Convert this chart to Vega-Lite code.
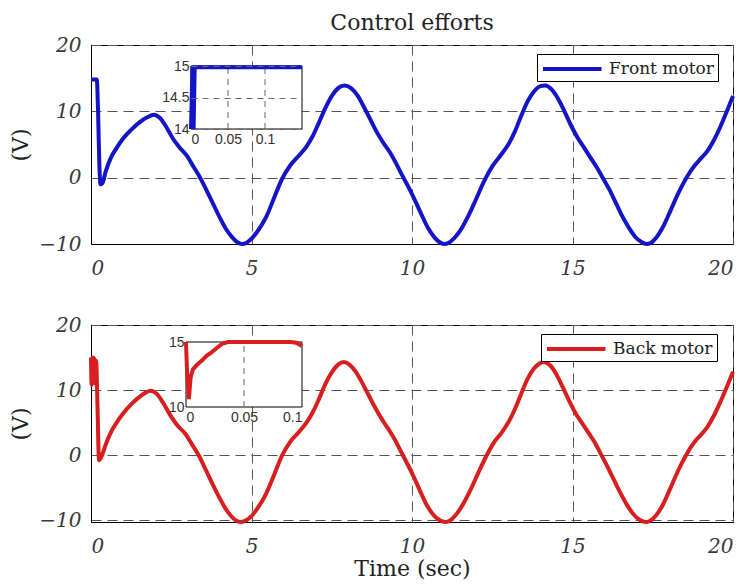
{
  "$schema": "https://vega.github.io/schema/vega-lite/v6.json",
  "padding": {"left": 9, "top": 11, "right": 5, "bottom": 3},
  "background": "white",
  "bounds": "flush",
  "spacing": 81,
  "resolve": {"scale": {"color": "independent"}},
  "config": {
    "view": {"stroke": "black", "strokeWidth": 1},
    "axis": {
      "labelFont": "DejaVu Serif", "labelFontStyle": "italic", "labelFontSize": 20, "labelColor": "#3a3a3a",
      "titleFont": "DejaVu Serif", "titleFontSize": 22, "titleFontWeight": "normal", "titleColor": "#222",
      "ticks": false, "domainColor": "black", "gridColor": "#555", "gridDash": [10, 6], "gridOpacity": 1, "labelPadding": 10
    },
    "legend": {
      "title": null, "orient": "none", "symbolType": "M-1,0H5.5", "symbolSize": 324, "symbolStrokeWidth": 4,
      "labelFont": "DejaVu Serif", "labelFontSize": 17, "labelColor": "#222", "labelOffset": 46, "padding": 4,
      "strokeColor": "black", "fillColor": "white"
    }
  },
  "vconcat": [
    {
      "width": 642, "height": 199,
      "title": {"text": "Control efforts", "font": "DejaVu Serif", "fontSize": 22, "fontWeight": "normal", "color": "#222", "frame": "group", "anchor": "middle", "offset": 0},
      "resolve": {"scale": {"x": "independent", "y": "independent"}},
      "layer": [
        {
          "data": {"values": [
            {"t":0,"v":14.8},{"t":0.1,"v":14.8},{"t":0.18,"v":14.8},{"t":0.22,"v":10},{"t":0.26,"v":2},{"t":0.3,"v":-1.0},{"t":0.36,"v":-0.8},{"t":0.45,"v":0.8},{"t":0.6,"v":2.8},{"t":0.8,"v":4.5},
            {"t":1.0,"v":5.9},{"t":1.25,"v":7.2},{"t":1.5,"v":8.3},{"t":1.75,"v":9.1},{"t":1.96,"v":9.5},{"t":2.15,"v":9.0},{"t":2.35,"v":7.6},{"t":2.55,"v":5.9},{"t":2.75,"v":4.6},{"t":3.0,"v":3.2},
            {"t":3.2,"v":1.6},{"t":3.4,"v":0.0},{"t":3.6,"v":-1.9},{"t":3.8,"v":-3.9},{"t":4.0,"v":-5.9},{"t":4.2,"v":-7.7},{"t":4.4,"v":-9.0},{"t":4.55,"v":-9.7},{"t":4.7,"v":-10.0},{"t":4.85,"v":-9.8},
            {"t":5.0,"v":-9.2},{"t":5.2,"v":-8.0},{"t":5.45,"v":-6.0},{"t":5.7,"v":-3.1},{"t":5.95,"v":-0.2},{"t":6.2,"v":1.8},{"t":6.45,"v":3.2},{"t":6.7,"v":4.6},{"t":6.9,"v":6.2},{"t":7.1,"v":8.3},
            {"t":7.3,"v":10.5},{"t":7.5,"v":12.3},{"t":7.7,"v":13.5},{"t":7.9,"v":13.9},{"t":8.1,"v":13.5},{"t":8.3,"v":12.4},{"t":8.5,"v":10.7},{"t":8.7,"v":8.8},{"t":8.9,"v":6.9},{"t":9.1,"v":5.3},
            {"t":9.3,"v":3.9},{"t":9.5,"v":2.2},{"t":9.7,"v":0.3},{"t":9.9,"v":-1.5},{"t":10.1,"v":-3.5},{"t":10.3,"v":-5.6},{"t":10.5,"v":-7.6},{"t":10.7,"v":-9.0},{"t":10.85,"v":-9.7},{"t":11.0,"v":-10.0},
            {"t":11.15,"v":-9.8},{"t":11.3,"v":-9.2},{"t":11.5,"v":-8.0},{"t":11.75,"v":-5.8},{"t":12.0,"v":-3.2},{"t":12.25,"v":-0.5},{"t":12.5,"v":1.7},{"t":12.75,"v":3.3},{"t":13.0,"v":5.0},{"t":13.2,"v":6.9},
            {"t":13.4,"v":9.3},{"t":13.6,"v":11.5},{"t":13.8,"v":13.0},{"t":14.0,"v":13.8},{"t":14.15,"v":13.9},{"t":14.35,"v":13.3},{"t":14.55,"v":11.9},{"t":14.75,"v":10.0},{"t":14.95,"v":7.9},{"t":15.15,"v":6.1},
            {"t":15.35,"v":4.6},{"t":15.55,"v":3.1},{"t":15.75,"v":1.6},{"t":15.95,"v":-0.1},{"t":16.15,"v":-1.8},{"t":16.35,"v":-3.8},{"t":16.55,"v":-5.8},{"t":16.75,"v":-7.5},{"t":16.95,"v":-8.9},{"t":17.15,"v":-9.7},
            {"t":17.3,"v":-10.0},{"t":17.45,"v":-9.8},{"t":17.6,"v":-9.1},{"t":17.8,"v":-7.6},{"t":18.05,"v":-5.0},{"t":18.3,"v":-2.3},{"t":18.55,"v":0.0},{"t":18.8,"v":1.8},{"t":19.0,"v":2.9},{"t":19.2,"v":4.0},
            {"t":19.4,"v":5.6},{"t":19.6,"v":7.6},{"t":19.8,"v":9.9},{"t":20.0,"v":12.3}
          ]},
          "mark": {"type": "line", "strokeWidth": 4, "interpolate": "monotone"},
          "encoding": {
            "x": {"field": "t", "type": "quantitative", "scale": {"domain": [0, 20], "nice": false}, "axis": {"values": [0, 5, 10, 15, 20], "title": null, "grid": true, "labelPadding": 14}},
            "y": {"field": "v", "type": "quantitative", "scale": {"domain": [-10, 20], "nice": false}, "axis": {"values": [-10, 0, 10, 20], "title": "(V)", "grid": true, "titlePadding": 6}},
            "color": {"datum": "Front motor", "type": "nominal", "scale": {"range": ["#1515c8"]}, "legend": {"legendX": 446, "legendY": 9}}
          }
        },
        {
          "layer": [
            {
              "data": {"values": [{"t": 0, "v": 14, "t2": 0.15, "v2": 15}]},
              "mark": {"type": "rect", "fill": "white", "stroke": "black", "strokeWidth": 1},
              "encoding": {
                "x": {"field": "t", "type": "quantitative", "scale": {"domain": [0, 0.15], "range": [100, 211], "nice": false}, "axis": {"orient": "bottom", "offset": -115, "values": [0, 0.05, 0.1], "format": "~g", "title": null, "grid": false, "domain": false, "labelFont": "Liberation Sans", "labelFontStyle": "normal", "labelFontSize": 14, "labelColor": "#333", "labelPadding": 3, "zindex": 1}},
                "x2": {"field": "t2"},
                "y": {"field": "v", "type": "quantitative", "scale": {"domain": [14, 15], "range": [84, 21], "nice": false}, "axis": {"orient": "left", "offset": -100, "values": [14, 14.5, 15], "format": "~g", "title": null, "grid": true, "gridColor": "#666", "gridDash": [6, 5], "domain": false, "labelFont": "Liberation Sans", "labelFontStyle": "normal", "labelFontSize": 14, "labelColor": "#333", "labelPadding": 2, "zindex": 1}},
                "y2": {"field": "v2"}
              }
            },
            {
              "data": {"values": [{"g": 0.05}, {"g": 0.1}]},
              "mark": {"type": "rule", "color": "#666", "strokeWidth": 1, "strokeDash": [6, 5]},
              "encoding": {
                "x": {"field": "g", "type": "quantitative"},
                "y": {"datum": 14, "type": "quantitative"},
                "y2": {"datum": 15}
              }
            },
            {
              "data": {"values": [
                {"t": 0, "v": 14.0}, {"t": 0.002, "v": 15.0}, {"t": 0.0035, "v": 14.0}, {"t": 0.005, "v": 14.98}, {"t": 0.05, "v": 14.98}, {"t": 0.1, "v": 14.98}, {"t": 0.15, "v": 14.98}
              ]},
              "mark": {"type": "line", "color": "#1515c8", "strokeWidth": 4},
              "encoding": {
                "x": {"field": "t", "type": "quantitative"},
                "y": {"field": "v", "type": "quantitative"}
              }
            }
          ]
        }
      ]
    },
    {
      "width": 642, "height": 197,
      "resolve": {"scale": {"x": "independent", "y": "independent"}},
      "layer": [
        {
          "data": {"values": [
            {"t":0,"v":15.0},{"t":0.02,"v":10.8},{"t":0.05,"v":15.0},{"t":0.1,"v":14.8},{"t":0.13,"v":11.0},{"t":0.16,"v":14.5},{"t":0.2,"v":8},{"t":0.25,"v":-0.8},{"t":0.32,"v":-0.3},{"t":0.45,"v":1.5},
            {"t":0.6,"v":3.3},{"t":0.8,"v":5.0},{"t":1.0,"v":6.4},{"t":1.25,"v":7.8},{"t":1.5,"v":8.9},{"t":1.7,"v":9.6},{"t":1.86,"v":9.9},{"t":2.05,"v":9.4},{"t":2.25,"v":8.0},{"t":2.45,"v":6.3},
            {"t":2.7,"v":4.5},{"t":2.95,"v":3.2},{"t":3.15,"v":1.6},{"t":3.35,"v":0.0},{"t":3.55,"v":-2.0},{"t":3.75,"v":-4.1},{"t":3.95,"v":-6.1},{"t":4.15,"v":-7.9},{"t":4.35,"v":-9.3},{"t":4.5,"v":-10.0},
            {"t":4.67,"v":-10.3},{"t":4.85,"v":-10.0},{"t":5.0,"v":-9.4},{"t":5.2,"v":-8.1},{"t":5.45,"v":-6.0},{"t":5.7,"v":-3.1},{"t":5.95,"v":-0.1},{"t":6.2,"v":2.0},{"t":6.45,"v":3.4},{"t":6.7,"v":4.9},
            {"t":6.9,"v":6.5},{"t":7.1,"v":8.6},{"t":7.3,"v":10.9},{"t":7.5,"v":12.7},{"t":7.7,"v":13.9},{"t":7.88,"v":14.3},{"t":8.05,"v":13.9},{"t":8.25,"v":12.8},{"t":8.45,"v":11.1},{"t":8.65,"v":9.2},
            {"t":8.85,"v":7.3},{"t":9.05,"v":5.6},{"t":9.25,"v":4.1},{"t":9.45,"v":2.5},{"t":9.65,"v":0.6},{"t":9.85,"v":-1.3},{"t":10.05,"v":-3.3},{"t":10.25,"v":-5.5},{"t":10.45,"v":-7.6},{"t":10.65,"v":-9.1},
            {"t":10.85,"v":-10.0},{"t":11.05,"v":-10.3},{"t":11.2,"v":-10.0},{"t":11.35,"v":-9.3},{"t":11.55,"v":-7.9},{"t":11.8,"v":-5.6},{"t":12.05,"v":-2.9},{"t":12.3,"v":-0.3},{"t":12.55,"v":1.9},{"t":12.8,"v":3.5},
            {"t":13.0,"v":5.0},{"t":13.2,"v":7.0},{"t":13.4,"v":9.4},{"t":13.6,"v":11.7},{"t":13.8,"v":13.3},{"t":13.95,"v":14.0},{"t":14.1,"v":14.3},{"t":14.3,"v":13.8},{"t":14.5,"v":12.4},{"t":14.7,"v":10.4},
            {"t":14.9,"v":8.3},{"t":15.1,"v":6.4},{"t":15.3,"v":4.9},{"t":15.5,"v":3.4},{"t":15.7,"v":1.9},{"t":15.9,"v":0.0},{"t":16.1,"v":-1.9},{"t":16.3,"v":-3.9},{"t":16.5,"v":-5.9},{"t":16.7,"v":-7.7},
            {"t":16.9,"v":-9.1},{"t":17.1,"v":-10.0},{"t":17.3,"v":-10.3},{"t":17.45,"v":-10.0},{"t":17.6,"v":-9.3},{"t":17.8,"v":-7.8},{"t":18.05,"v":-5.1},{"t":18.3,"v":-2.3},{"t":18.55,"v":0.1},{"t":18.8,"v":2.0},
            {"t":19.0,"v":3.1},{"t":19.2,"v":4.3},{"t":19.4,"v":6.0},{"t":19.6,"v":8.1},{"t":19.8,"v":10.4},{"t":20.0,"v":12.8}
          ]},
          "mark": {"type": "line", "strokeWidth": 4, "interpolate": "monotone"},
          "encoding": {
            "x": {"field": "t", "type": "quantitative", "scale": {"domain": [0, 20], "nice": false}, "axis": {"values": [0, 5, 10, 15, 20], "title": "Time (sec)", "grid": true, "labelPadding": 14, "titlePadding": 2}},
            "y": {"field": "v", "type": "quantitative", "scale": {"domain": [-10.3, 20], "nice": false}, "axis": {"values": [-10, 0, 10, 20], "title": "(V)", "grid": true, "titlePadding": 6}},
            "color": {"datum": "Back motor", "type": "nominal", "scale": {"range": ["#d81e1e"]}, "legend": {"legendX": 450, "legendY": 9}}
          }
        },
        {
          "layer": [
            {
              "data": {"values": [{"t": 0, "v": 10, "t2": 0.1, "v2": 15}]},
              "mark": {"type": "rect", "fill": "white", "stroke": "black", "strokeWidth": 1},
              "encoding": {
                "x": {"field": "t", "type": "quantitative", "scale": {"domain": [0, 0.1], "range": [95, 211], "nice": false}, "axis": {"orient": "bottom", "offset": -115, "values": [0, 0.05, 0.1], "format": "~g", "title": null, "grid": false, "domain": false, "labelFont": "Liberation Sans", "labelFontStyle": "normal", "labelFontSize": 14, "labelColor": "#333", "labelPadding": 3, "zindex": 1}},
                "x2": {"field": "t2"},
                "y": {"field": "v", "type": "quantitative", "scale": {"domain": [10, 15], "range": [82, 17], "nice": false}, "axis": {"orient": "left", "offset": -95, "values": [10, 15], "format": "~g", "title": null, "grid": false, "domain": false, "labelFont": "Liberation Sans", "labelFontStyle": "normal", "labelFontSize": 14, "labelColor": "#333", "labelPadding": 2, "zindex": 1}},
                "y2": {"field": "v2"}
              }
            },
            {
              "data": {"values": [{"g": 0.05}]},
              "mark": {"type": "rule", "color": "#666", "strokeWidth": 1, "strokeDash": [6, 5]},
              "encoding": {
                "x": {"field": "g", "type": "quantitative"},
                "y": {"datum": 10, "type": "quantitative"},
                "y2": {"datum": 15}
              }
            },
            {
              "data": {"values": [
                {"t": 0, "v": 15.0}, {"t": 0.001, "v": 12.5}, {"t": 0.0025, "v": 10.6}, {"t": 0.004, "v": 12.3}, {"t": 0.006, "v": 12.9}, {"t": 0.01, "v": 13.3}, {"t": 0.014, "v": 13.6}, {"t": 0.018, "v": 13.95}, {"t": 0.022, "v": 14.2}, {"t": 0.026, "v": 14.5}, {"t": 0.031, "v": 14.85}, {"t": 0.036, "v": 15.0}, {"t": 0.09, "v": 15.0}, {"t": 0.095, "v": 14.95}, {"t": 0.1, "v": 14.7}
              ]},
              "mark": {"type": "line", "color": "#d81e1e", "strokeWidth": 4},
              "encoding": {
                "x": {"field": "t", "type": "quantitative"},
                "y": {"field": "v", "type": "quantitative"}
              }
            }
          ]
        }
      ]
    }
  ]
}
